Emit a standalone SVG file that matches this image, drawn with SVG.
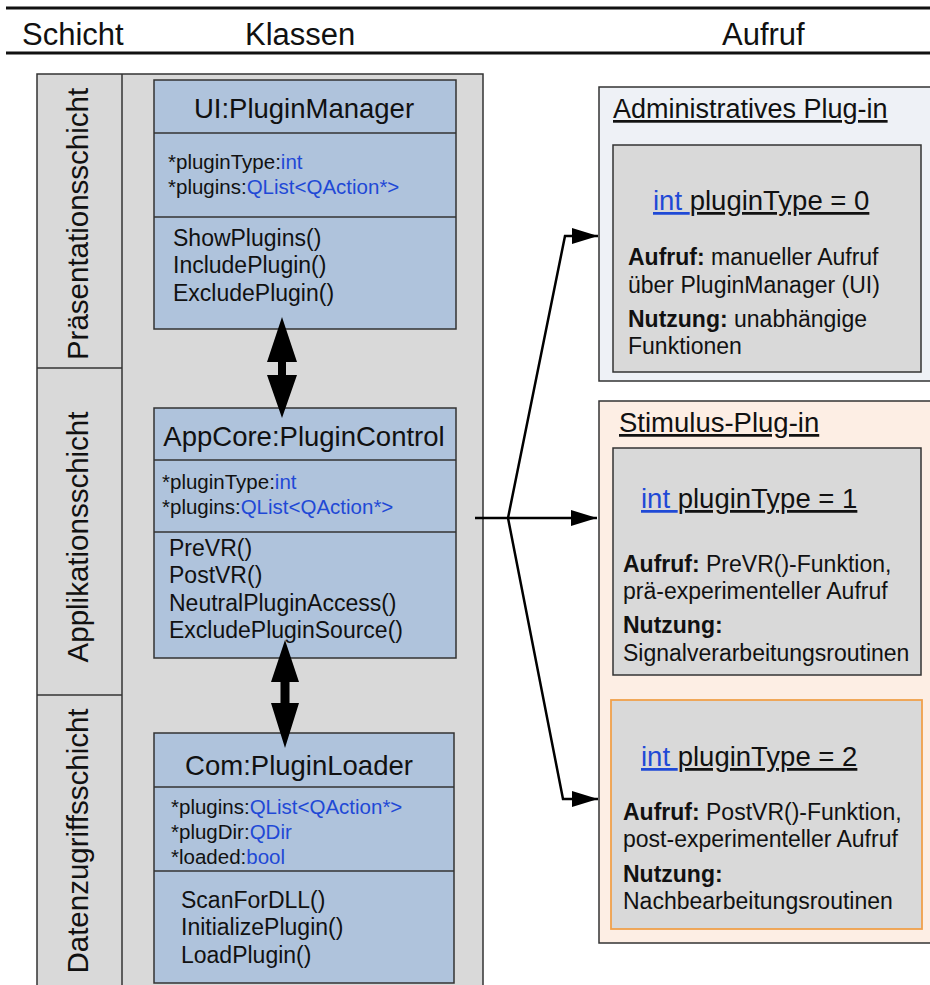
<svg xmlns="http://www.w3.org/2000/svg" width="930" height="985" viewBox="0 0 930 985">
<defs>
<marker id="ah" markerUnits="userSpaceOnUse" markerWidth="28" markerHeight="18" refX="26" refY="8" orient="auto">
<path d="M0,0 L26,8 L0,16 Z" fill="#000"/>
</marker>
</defs>
<style>
text{font-family:"Liberation Sans",Arial,sans-serif;fill:#111}
.hdr{font-size:31px}
.layer{font-size:29.5px;text-anchor:middle}
.ttl{font-size:27.5px;text-anchor:middle}
.attr{font-size:20.5px}
.meth{font-size:23px}
.blue{fill:#1f49d6}
.uml{fill:#afc3dc;stroke:#333;stroke-width:1.5}
.sep{stroke:#333;stroke-width:1.5}
.inner{fill:#d9d9d9;stroke:#333;stroke-width:1.5}
.rt{font-size:27.5px;text-decoration:underline}
.body{font-size:23px}
.b{font-weight:bold}
.conn{fill:none;stroke:#000;stroke-width:2.5}
</style>
<rect width="930" height="985" fill="#fff"/>
<g id="header">
<line x1="6" y1="8" x2="930" y2="8" stroke="#111" stroke-width="3"/>
<line x1="6" y1="53" x2="930" y2="53" stroke="#111" stroke-width="3"/>
<text class="hdr" x="22" y="45">Schicht</text>
<text class="hdr" x="245" y="45">Klassen</text>
<text class="hdr" x="722" y="45">Aufruf</text>
</g>
<g id="layers">
<rect x="37" y="74" width="446" height="920" fill="#d9d9d9" stroke="#333" stroke-width="1.5"/>
<line class="sep" x1="122" y1="74" x2="122" y2="985"/>
<line class="sep" x1="37" y1="368" x2="122" y2="368"/>
<line class="sep" x1="37" y1="695" x2="122" y2="695"/>
<text class="layer" transform="translate(88,224) rotate(-90)">Präsentationsschicht</text>
<text class="layer" transform="translate(88,537) rotate(-90)">Applikationsschicht</text>
<text class="layer" transform="translate(88,841) rotate(-90)">Datenzugriffsschicht</text>
</g>
<g id="pluginManager">
<rect class="uml" x="154" y="80" width="302" height="249"/>
<line class="sep" x1="154" y1="133" x2="456" y2="133"/>
<line class="sep" x1="154" y1="217" x2="456" y2="217"/>
<text class="ttl" x="304" y="118">UI:PluginManager</text>
<text class="attr" x="168" y="169">*pluginType:<tspan class="blue">int</tspan></text>
<text class="attr" x="168" y="194">*plugins:<tspan class="blue">QList&lt;QAction*&gt;</tspan></text>
<text class="meth" x="173" y="246">ShowPlugins()</text>
<text class="meth" x="173" y="273">IncludePlugin()</text>
<text class="meth" x="173" y="301">ExcludePlugin()</text>
</g>
<g id="pluginControl">
<rect class="uml" x="154" y="408" width="302" height="250"/>
<line class="sep" x1="154" y1="460" x2="456" y2="460"/>
<line class="sep" x1="154" y1="532" x2="456" y2="532"/>
<text class="ttl" x="304" y="446">AppCore:PluginControl</text>
<text class="attr" x="162" y="489">*pluginType:<tspan class="blue">int</tspan></text>
<text class="attr" x="162" y="514">*plugins:<tspan class="blue">QList&lt;QAction*&gt;</tspan></text>
<text class="meth" x="169" y="556">PreVR()</text>
<text class="meth" x="169" y="583">PostVR()</text>
<text class="meth" x="169" y="611">NeutralPluginAccess()</text>
<text class="meth" x="169" y="638">ExcludePluginSource()</text>
</g>
<g id="pluginLoader">
<rect class="uml" x="154" y="733" width="300" height="250"/>
<line class="sep" x1="154" y1="787" x2="454" y2="787"/>
<line class="sep" x1="154" y1="871" x2="454" y2="871"/>
<text class="ttl" x="299" y="775">Com:PluginLoader</text>
<text class="attr" x="171" y="814">*plugins:<tspan class="blue">QList&lt;QAction*&gt;</tspan></text>
<text class="attr" x="171" y="839">*plugDir:<tspan class="blue">QDir</tspan></text>
<text class="attr" x="171" y="864">*loaded:<tspan class="blue">bool</tspan></text>
<text class="meth" x="181" y="908">ScanForDLL()</text>
<text class="meth" x="181" y="935">InitializePlugin()</text>
<text class="meth" x="181" y="963">LoadPlugin()</text>
</g>
<g id="adminPlugin">
<rect x="599" y="87" width="340" height="294" fill="#eef1f6" stroke="#333" stroke-width="1.5"/>
<text class="rt" x="613" y="118" style="font-size:27px">Administratives Plug-in</text>
<rect class="inner" x="613" y="145" width="308" height="227"/>
<text x="653" y="210" style="font-size:27.5px"><tspan class="blue" text-decoration="underline">int </tspan><tspan text-decoration="underline">pluginType = 0</tspan></text>
<text class="body" x="628" y="265"><tspan class="b">Aufruf:</tspan> manueller Aufruf</text>
<text class="body" x="628" y="293">über PluginManager (UI)</text>
<text class="body" x="628" y="327"><tspan class="b">Nutzung:</tspan> unabhängige</text>
<text class="body" x="628" y="354">Funktionen</text>
</g>
<g id="stimulusPlugin">
<rect x="599" y="401" width="340" height="542" fill="#fdeee4" stroke="#333" stroke-width="1.5"/>
<text class="rt" x="619" y="432">Stimulus-Plug-in</text>
</g>
<g id="pluginType1">
<rect class="inner" x="613" y="448" width="308" height="227"/>
<text x="641" y="508" style="font-size:27.5px"><tspan class="blue" text-decoration="underline">int </tspan><tspan text-decoration="underline">pluginType = 1</tspan></text>
<text class="body" x="623" y="572"><tspan class="b">Aufruf:</tspan> PreVR()-Funktion,</text>
<text class="body" x="623" y="599">prä-experimenteller Aufruf</text>
<text class="body b" x="623" y="633">Nutzung:</text>
<text class="body" x="623" y="661">Signalverarbeitungsroutinen</text>
</g>
<g id="pluginType2">
<rect x="611" y="700" width="311" height="229" fill="#d9d9d9" stroke="#f0a04b" stroke-width="1.8"/>
<text x="641" y="766" style="font-size:27.5px"><tspan class="blue" text-decoration="underline">int </tspan><tspan text-decoration="underline">pluginType = 2</tspan></text>
<text class="body" x="623" y="820"><tspan class="b">Aufruf:</tspan> PostVR()-Funktion,</text>
<text class="body" x="623" y="847">post-experimenteller Aufruf</text>
<text class="body b" x="623" y="882">Nutzung:</text>
<text class="body" x="623" y="909">Nachbearbeitungsroutinen</text>
</g>
<g id="connectors">
<polygon points="282,317 297,362 286,362 286,375 297,375 282,418 267,375 278,375 278,362 267,362" fill="#000"/>
<polygon points="285,640 299,682 289.5,682 289.5,703 299,703 285,748 271,703 280.5,703 280.5,682 271,682" fill="#000"/>
<path class="conn" d="M475,518 L597,518" marker-end="url(#ah)"/>
<path class="conn" d="M508,518 L565,236 L598,236" marker-end="url(#ah)"/>
<path class="conn" d="M508,518 L563,799 L598,799" marker-end="url(#ah)"/>
</g>
</svg>
